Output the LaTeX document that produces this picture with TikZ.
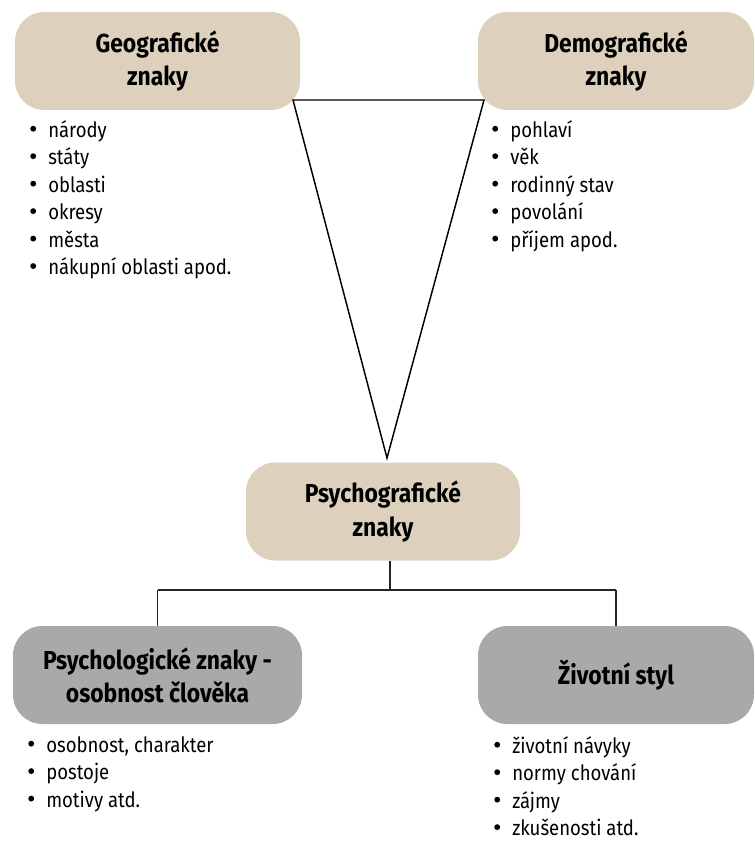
\documentclass[tikz,border=0pt]{standalone}
\usepackage{fontspec}
\setmainfont{Fira Sans}[FakeStretch=0.88]
\usetikzlibrary{positioning}
\definecolor{beige}{HTML}{DDD1BE}
\definecolor{greybox}{HTML}{A9A9A9}
\newcommand{\bul}{\makebox[13.5pt][l]{\raisebox{0.26em}{\tikz\fill[black] (0,0) circle (2.2pt);}}}
\begin{document}
\begin{tikzpicture}[x=0.75pt,y=-0.75pt,
  box/.style={rounded corners=22pt,minimum height=73.5pt,align=center,font=\fontsize{19.5}{24.8}\selectfont\bfseries,inner sep=0pt},
  tan/.style={box,fill=beige},
  gry/.style={box,fill=greybox},
  lst/.style={anchor=north west,align=left,font=\fontsize{15.8}{20.6}\selectfont,inner sep=0pt},
  con/.style={draw=black!85,line width=0.8pt}]
\useasboundingbox (0,0) rectangle (754,841);
\node[tan,minimum width=213.75pt] (geo) at (157.5,61) {\raisebox{-2pt}{Geografické}\\\raisebox{-2pt}{znaky}};
\node[tan,minimum width=207pt] (dem) at (616,61) {\raisebox{-2pt}{Demografické}\\\raisebox{-2pt}{znaky}};
\node[tan,minimum width=205.5pt] (psy) at (383,511.5) {\raisebox{-2pt}{Psychografické}\\\raisebox{-2pt}{znaky}};
\node[gry,minimum width=216.75pt] (pl) at (157.5,675) {Psychologické znaky -\\osobnost člověka};
\node[gry,minimum width=207pt] (zs) at (616,675) {Životní styl};
\coordinate (tl) at (293,100);
\coordinate (tr) at (484,100);
\coordinate (tb) at (387,458);
\draw[line width=1.1pt,line join=miter] (tl) -- (tr) -- (tb) -- cycle;
\coordinate (j) at (390,590);
\draw[con] (psy.south -| j) -- (j);
\draw[con] (j -| pl.north) -- (j -| zs.north);
\draw[con] (j -| pl.north) -- (pl.north);
\draw[con] (j -| zs.north) -- (zs.north);
\node[lst] (gl) at (30,120) {\bul národy\\\bul státy\\\bul oblasti\\\bul okresy\\\bul města\\\bul nákupní oblasti apod.};
\node[lst] (dl) at (492,120) {\bul pohlaví\\\bul věk\\\bul rodinný stav\\\bul povolání\\\bul příjem apod.};
\node[lst] (pll) at (28,736) {\bul osobnost, charakter\\\bul postoje\\\bul motivy atd.};
\node[lst] (zsl) at (494,736) {\bul životní návyky\\\bul normy chování\\\bul zájmy\\\bul zkušenosti atd.};
\end{tikzpicture}
\end{document}
